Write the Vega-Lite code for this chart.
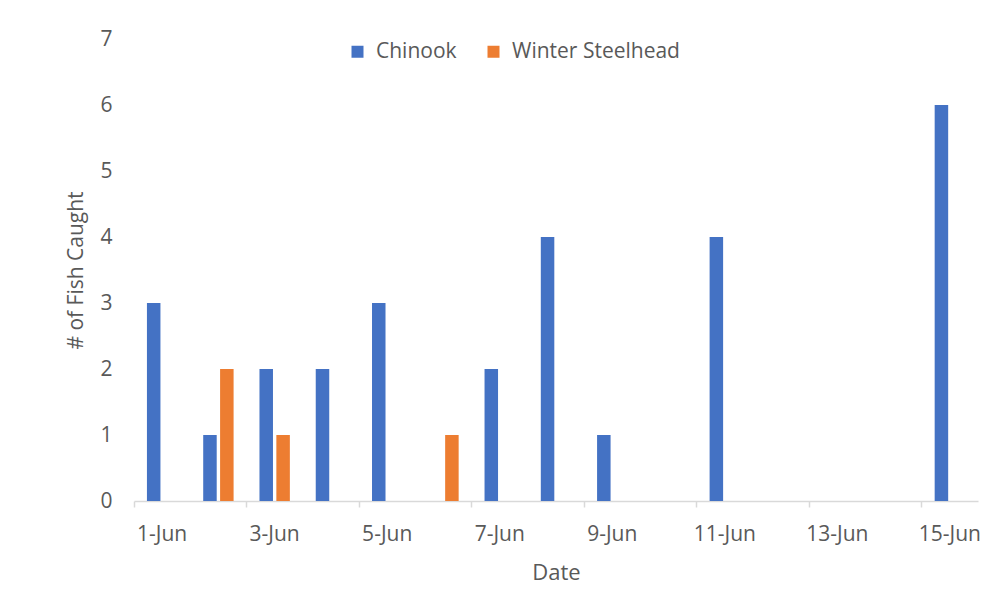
{
  "$schema": "https://vega.github.io/schema/vega-lite/v6.json",
  "autosize": "none",
  "width": 844,
  "height": 462,
  "padding": {"left": 134, "top": 39, "right": 22, "bottom": 102},
  "background": "white",
  "config": {
    "view": {"stroke": null},
    "font": "Open Sans",
    "axis": {"labelColor": "#595959", "titleColor": "#595959", "labelFont": "Open Sans", "titleFont": "Open Sans", "titleFontWeight": "normal"}
  },
  "data": {
    "values": [
      {"date": "1-Jun", "species": "Chinook", "count": 3},
      {"date": "2-Jun", "species": "Chinook", "count": 1},
      {"date": "2-Jun", "species": "Winter Steelhead", "count": 2},
      {"date": "3-Jun", "species": "Chinook", "count": 2},
      {"date": "3-Jun", "species": "Winter Steelhead", "count": 1},
      {"date": "4-Jun", "species": "Chinook", "count": 2},
      {"date": "5-Jun", "species": "Chinook", "count": 3},
      {"date": "6-Jun", "species": "Winter Steelhead", "count": 1},
      {"date": "7-Jun", "species": "Chinook", "count": 2},
      {"date": "8-Jun", "species": "Chinook", "count": 4},
      {"date": "9-Jun", "species": "Chinook", "count": 1},
      {"date": "11-Jun", "species": "Chinook", "count": 4},
      {"date": "15-Jun", "species": "Chinook", "count": 6}
    ]
  },
  "mark": {"type": "bar"},
  "encoding": {
    "x": {
      "field": "date",
      "type": "ordinal",
      "title": "Date",
      "scale": {
        "domain": ["1-Jun","2-Jun","3-Jun","4-Jun","5-Jun","6-Jun","7-Jun","8-Jun","9-Jun","10-Jun","11-Jun","12-Jun","13-Jun","14-Jun","15-Jun"],
        "paddingInner": 0.43,
        "paddingOuter": 0.215
      },
      "axis": {
        "values": ["1-Jun","3-Jun","5-Jun","7-Jun","9-Jun","11-Jun","13-Jun","15-Jun"],
        "bandPosition": -0.377,
        "labelOffset": 0,
        "labelAngle": 0,
        "labelFontSize": 21,
        "labelPadding": 16,
        "labelBound": false,
        "labelOverlap": false,
        "tickSize": 6,
        "tickColor": "#D9D9D9",
        "tickWidth": 1.5,
        "domainColor": "#D9D9D9",
        "domainWidth": 1.5,
        "grid": false,
        "titleFontSize": 22,
        "titlePadding": 18
      }
    },
    "xOffset": {
      "field": "species",
      "scale": {"domain": ["Chinook", "Winter Steelhead"], "paddingInner": 0.2, "paddingOuter": 0.05}
    },
    "y": {
      "field": "count",
      "type": "quantitative",
      "title": "# of Fish Caught",
      "scale": {"domain": [0, 7], "nice": false},
      "axis": {
        "values": [0,1,2,3,4,5,6,7],
        "grid": false,
        "ticks": false,
        "domain": false,
        "labelFontSize": 21,
        "labelPadding": 22,
        "titleFontSize": 21,
        "titlePadding": 13
      }
    },
    "color": {
      "field": "species",
      "type": "nominal",
      "scale": {"domain": ["Chinook", "Winter Steelhead"], "range": ["#4472C4", "#ED7D31"]},
      "legend": {
        "title": null,
        "orient": "none",
        "direction": "horizontal",
        "legendX": 213,
        "legendY": 2,
        "symbolType": "square",
        "symbolSize": 144,
        "symbolStrokeWidth": 0,
        "labelFontSize": 21,
        "labelColor": "#595959",
        "labelFont": "Open Sans",
        "labelOffset": 8,
        "labelLimit": 400,
        "columnPadding": 26
      }
    }
  }
}
